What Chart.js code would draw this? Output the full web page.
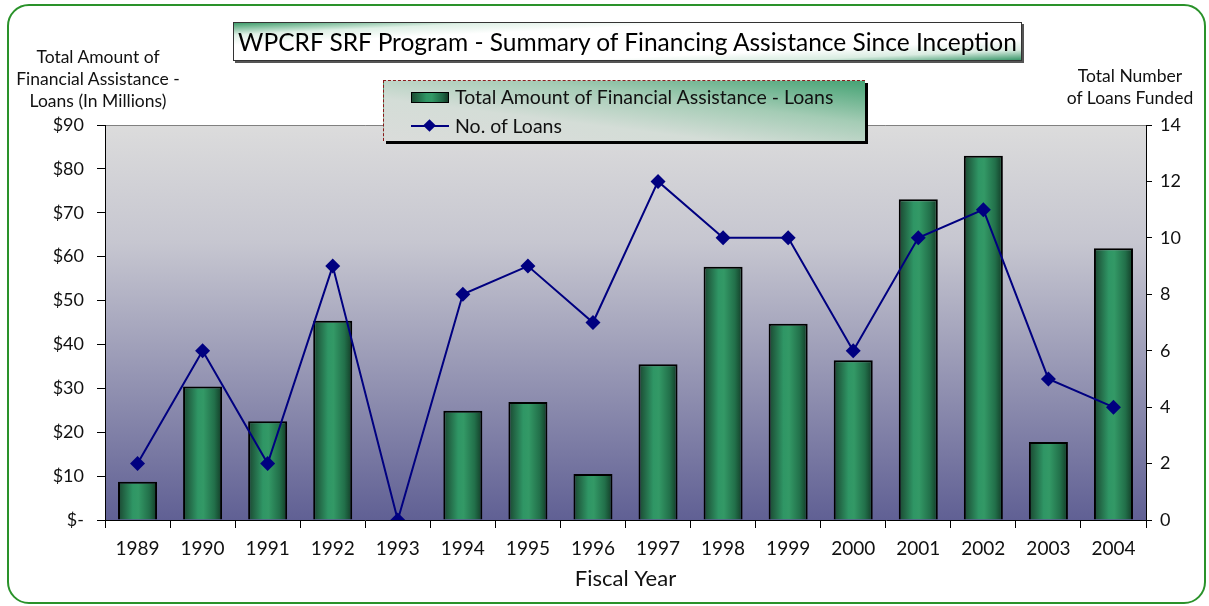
<!DOCTYPE html>
<html>
<head>
<meta charset="utf-8">
<script src="https://cdn.jsdelivr.net/npm/chart.js@4.4.1/dist/chart.umd.min.js"></script>
<style>
  body { margin: 0; background: #fff; font-family: 'Lato', sans-serif; color: #111; }
  #wrap { position: relative; width: 1209px; height: 606px; overflow: hidden; }
  #frame { position: absolute; left: 7px; top: 4px; width: 1195px; height: 596px;
    border: 2px solid #2a922a; border-radius: 22px; pointer-events: none; }
  canvas { position: absolute; left: 0; top: 0; }
  #title { position: absolute; left: 233px; top: 22px; width: 787px; height: 37px;
    border: 1px solid #333; box-shadow: 2px 2px 0 #555;
    background: linear-gradient(to bottom right, #3f9d6b 0%, #dff0e6 16%, #ffffff 30%, #ffffff 72%, #d9ece1 86%, #3a976a 100%);
    font-size: 24.5px; line-height: 37px; text-align: center; color: #000; white-space: nowrap; }
  #legend { position: absolute; left: 383px; top: 80px; width: 481px; height: 60px;
    border-left: 1px dashed #8b1a1a; border-top: 1px dashed #8b1a1a;
    box-shadow: 3px 3px 0 #000;
    background: linear-gradient(to bottom left, #45a374 0%, #a4ccb5 35%, #d4ddd7 65%, #dadcda 100%); }
  .lrow { position: absolute; left: 27px; height: 24px; font-size: 19.5px; line-height: 24px; white-space: nowrap; }
  .swatch { position: absolute; left: 0; top: 7px; width: 36px; height: 9px; border: 1px solid #000;
    background: linear-gradient(to right, #1c4d33 0%, #2f9665 40%, #339966 55%, #1e6644 85%, #143d28 100%); }
  .ln { position: absolute; left: 0; top: 11px; width: 38px; height: 2px; background: #000080; }
  .dia { position: absolute; left: 14px; top: 7px; width: 9px; height: 9px; background: #000080; transform: rotate(45deg); }
  .ltext { position: absolute; left: 44px; top: 0; }
  .atitle { position: absolute; text-align: center; font-size: 17.5px; line-height: 22px; white-space: nowrap; color: #111; }
</style>
</head>
<body>
<div id="wrap">
  <canvas id="chart" width="1209" height="606"></canvas>
  <div id="frame"></div>
  <div class="atitle" style="left:0;width:196px;top:46px;">Total Amount of<br>Financial Assistance -<br>Loans (In Millions)</div>
  <div class="atitle" style="left:1050px;width:160px;top:65px;">Total Number<br>of Loans Funded</div>
  <div id="title">WPCRF SRF Program - Summary of Financing Assistance Since Inception</div>
  <div id="legend">
    <div class="lrow" style="top:4px;"><div class="swatch"></div><span class="ltext">Total Amount of Financial Assistance - Loans</span></div>
    <div class="lrow" style="top:33px;"><div class="ln"></div><div class="dia"></div><span class="ltext">No. of Loans</span></div>
  </div>
</div>
<script>
var years = ['1989', '1990', '1991', '1992', '1993', '1994', '1995', '1996',
             '1997', '1998', '1999', '2000', '2001', '2002', '2003', '2004'];
// millions of dollars
var amounts = [8.7, 30.4, 22.5, 45.4, 0, 24.9, 26.9, 10.5, 35.5, 57.7, 44.7, 36.4, 73.1, 83.0, 17.8, 61.9];
var loans = [2, 6, 2, 9, 0, 8, 9, 7, 12, 10, 10, 6, 10, 11, 5, 4];
var amountMax = 90, amountStep = 10;
var loansMax = 14, loansStep = 2;

Chart.defaults.font.family = 'Lato, sans-serif';
Chart.defaults.font.size = 18;
Chart.defaults.color = '#111';

var BAR_PCT = 0.6;

// plot area gradient, drawn before the datasets
var plotBg = {
    id: 'plotBg',
    beforeDraw: function (chart) {
        var a = chart.chartArea, c = chart.ctx;
        var g = c.createLinearGradient(0, a.top, 0, a.bottom);
        g.addColorStop(0, '#dcdcdc');
        g.addColorStop(0.3, '#c6c6d0');
        g.addColorStop(1, '#606094');
        c.save();
        c.fillStyle = g;
        c.fillRect(a.left, a.top, a.right - a.left, a.bottom - a.top);
        c.strokeStyle = '#808080';
        c.lineWidth = 1;
        c.beginPath();
        c.moveTo(a.left, a.top + 0.5);
        c.lineTo(a.right, a.top + 0.5);
        c.stroke();
        c.restore();
    }
};

function barFill(ctx) {
    var chart = ctx.chart;
    if (!chart.chartArea) {
        return '#2e8b57';
    }
    var x = chart.scales.x;
    var cx = x.getPixelForValue(ctx.dataIndex);
    var half = (x.width / years.length) * BAR_PCT / 2;
    var g = chart.ctx.createLinearGradient(cx - half, 0, cx + half, 0);
    g.addColorStop(0, '#1a4630');
    g.addColorStop(0.38, '#2f9665');
    g.addColorStop(0.52, '#339966');
    g.addColorStop(0.8, '#22704a');
    g.addColorStop(1, '#123a26');
    return g;
}

new Chart(document.getElementById('chart'), {
    type: 'bar',
    data: {
        labels: years,
        datasets: [{
            type: 'line',
            label: 'No. of Loans',
            data: loans,
            yAxisID: 'y1',
            order: 0,
            borderColor: '#000080',
            backgroundColor: '#000080',
            borderWidth: 2,
            pointStyle: 'rectRot',
            pointRadius: 7.5,
            pointBorderWidth: 0,
            tension: 0,
        }, {
            label: 'Total Amount of Financial Assistance - Loans',
            data: amounts,
            yAxisID: 'y',
            order: 1,
            backgroundColor: barFill,
            borderColor: '#000',
            borderWidth: function (ctx) { return amounts[ctx.dataIndex] ? 2 : 0; },
            borderSkipped: 'bottom',
            categoryPercentage: 1,
            barPercentage: BAR_PCT,
        }],
    },
    options: {
        responsive: false,
        animation: false,
        layout: { padding: { top: 125, left: 0, right: 0, bottom: 0 } },
        plugins: { legend: { display: false }, tooltip: { enabled: false } },
        scales: {
            x: {
                afterFit: function (s) { s.height = 86; },
                grid: { offset: true, drawOnChartArea: false, tickLength: 8, color: '#000' },
                border: { color: '#000', width: 1 },
                ticks: { padding: 9, color: '#111', font: { size: 19 } },
                title: { display: true, text: 'Fiscal Year', font: { size: 22 }, color: '#111', padding: { top: 0, bottom: 14 } },
            },
            y: {
                position: 'left',
                min: 0,
                max: amountMax,
                afterFit: function (s) { s.width = 105; },
                ticks: {
                    stepSize: amountStep,
                    padding: 13,
                    color: '#111',
                    callback: function (v) { return v === 0 ? '$-' : '$' + v; },
                },
                grid: { drawOnChartArea: false, tickLength: 8, color: '#000' },
                border: { color: '#000', width: 1 },
            },
            y1: {
                position: 'right',
                min: 0,
                max: loansMax,
                afterFit: function (s) { s.width = 63; },
                ticks: { stepSize: loansStep, padding: 8, color: '#111' },
                grid: { drawOnChartArea: false, tickLength: 6, color: '#000' },
                border: { color: '#000', width: 1 },
            },
        },
    },
    plugins: [plotBg],
});
</script>
</body>
</html>
